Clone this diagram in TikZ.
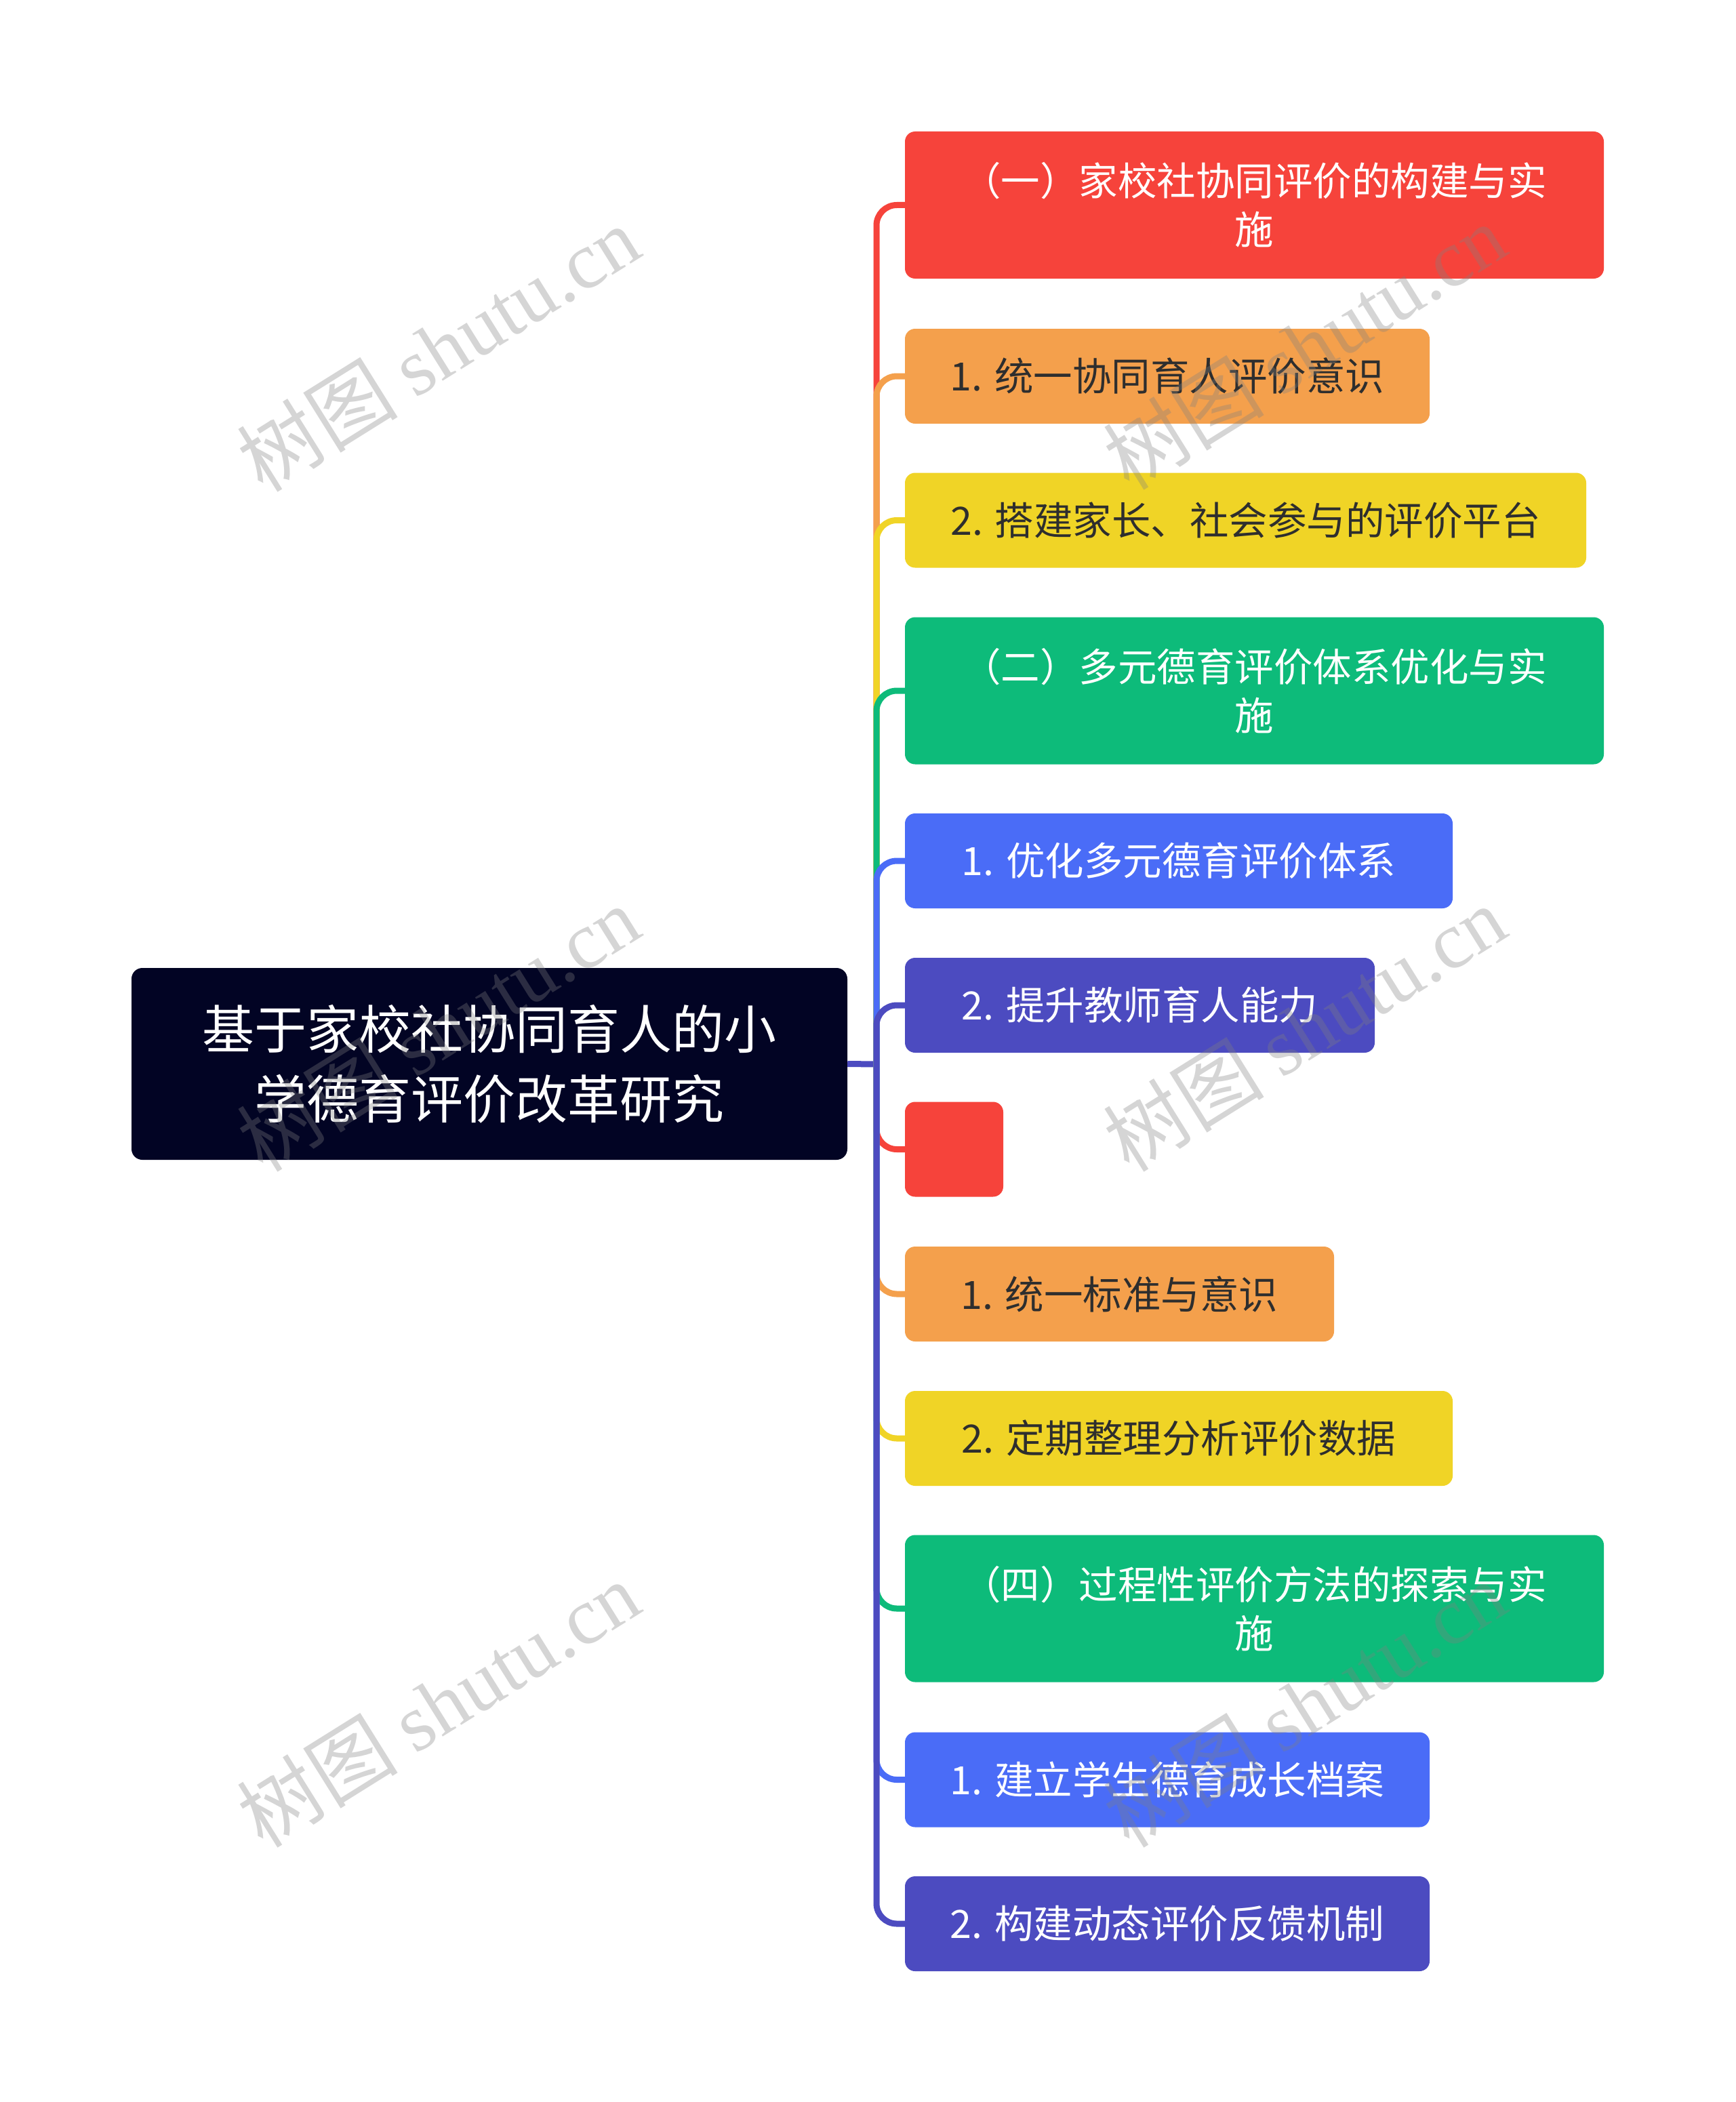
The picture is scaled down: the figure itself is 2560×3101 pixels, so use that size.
\documentclass[tikz,border=0pt]{standalone}
\usepackage{fontspec}
\setmainfont{Noto Sans CJK SC}
\newfontfamily\wmserif{Liberation Serif}
\definecolor{cred}{HTML}{F6433B}
\definecolor{corange}{HTML}{F4A04C}
\definecolor{cyellow}{HTML}{F0D426}
\definecolor{cgreen}{HTML}{0DBB7A}
\definecolor{cblue}{HTML}{4A6CF7}
\definecolor{cindigo}{HTML}{4C4BC0}
\definecolor{croot}{HTML}{020424}
\definecolor{cdark}{HTML}{2E2E2E}
\begin{document}
\begin{tikzpicture}[x=1pt,y=-1pt,
  box/.style={rectangle, rounded corners=15pt, inner sep=0pt, align=center,
    minimum height=140pt, font=\fontsize{57.5}{72}\selectfont},
  tall/.style={minimum height=217pt},
  conn/.style={line width=9pt, rounded corners=30pt},
  wm/.style={rotate=32, text=black!50, text opacity=0.33,
    font=\fontsize{119}{119}\selectfont}]
\fill[white] (0,0) rectangle (2560,3101);
\useasboundingbox (0,0) rectangle (2560,3101);

% root
\node[rectangle, rounded corners=16pt, inner sep=0pt, fill=croot, text=white,
  minimum width=1056pt, minimum height=283pt, align=center,
  font=\fontsize{77}{103}\selectfont] (root) at (722,1569.5)
  {基于家校社协同育人的小\\学德育评价改革研究};
\coordinate (j) at (1293,1570);

% children
\node[box, tall, fill=cred, text=white, minimum width=1031pt] (n1) at (1850.5,302.5)
  {（一）家校社协同评价的构建与实\\施};
\node[box, fill=corange, text=cdark, minimum width=774pt] (n2) at (1722,555)
  {1. 统一协同育人评价意识};
\node[box, fill=cyellow, text=cdark, minimum width=1005pt] (n3) at (1837.5,767.5)
  {2. 搭建家长、社会参与的评价平台};
\node[box, tall, fill=cgreen, text=white, minimum width=1031pt] (n4) at (1850.5,1019)
  {（二）多元德育评价体系优化与实\\施};
\node[box, fill=cblue, text=white, minimum width=808pt] (n5) at (1739,1270)
  {1. 优化多元德育评价体系};
\node[box, fill=cindigo, text=white, minimum width=693pt] (n6) at (1681.5,1483)
  {2. 提升教师育人能力};
\node[box, fill=cred, minimum width=145pt] (n7) at (1407.5,1695.5) {};
\node[box, fill=corange, text=cdark, minimum width=633pt] (n8) at (1651.5,1909)
  {1. 统一标准与意识};
\node[box, fill=cyellow, text=cdark, minimum width=808pt] (n9) at (1739,2122)
  {2. 定期整理分析评价数据};
\node[box, tall, fill=cgreen, text=white, minimum width=1031pt] (n10) at (1850.5,2373)
  {（四）过程性评价方法的探索与实\\施};
\node[box, fill=cblue, text=white, minimum width=774pt] (n11) at (1722,2625.5)
  {1. 建立学生德育成长档案};
\node[box, fill=cindigo, text=white, minimum width=774pt] (n12) at (1722,2838)
  {2. 构建动态评价反馈机制};

% connectors
\draw[line width=9pt, cindigo] (root.east) -- (j);
\draw[conn, cred] (j) |- (n1.west);
\draw[conn, corange] (j) |- (n2.west);
\draw[conn, cyellow] (j) |- (n3.west);
\draw[conn, cgreen] (j) |- (n4.west);
\draw[conn, cblue] (j) |- (n5.west);
\draw[conn, cindigo] (j) |- (n6.west);
\draw[conn, cred] (j) |- (n7.west);
\draw[conn, corange] (j) |- (n8.west);
\draw[conn, cyellow] (j) |- (n9.west);
\draw[conn, cgreen] (j) |- (n10.west);
\draw[conn, cblue] (j) |- (n11.west);
\draw[conn, cindigo] (j) |- (n12.west);

% watermarks
\node[wm] (w1) at (646,514) {树图 {\wmserif shutu.cn}};
\node[wm] (w2) at (1924,511) {树图 {\wmserif shutu.cn}};
\node[wm] (w3) at (646,1517) {树图 {\wmserif shutu.cn}};
\node[wm] (w4) at (1924,1517) {树图 {\wmserif shutu.cn}};
\node[wm] (w5) at (646,2514) {树图 {\wmserif shutu.cn}};
\node[wm] (w6) at (1924,2514) {树图 {\wmserif shutu.cn}};
\end{tikzpicture}
\end{document}
